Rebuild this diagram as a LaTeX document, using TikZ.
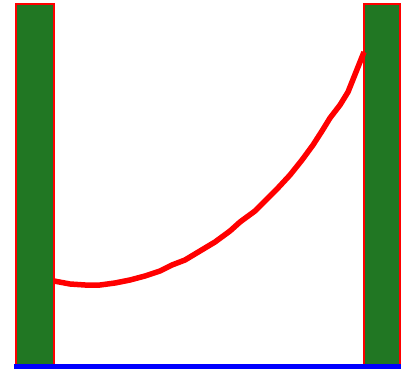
\documentclass[tikz,border=0pt]{standalone}
\usepackage{tikz}
\definecolor{pillargreen}{RGB}{33,119,35}
\tikzset{
	pillar/.style={draw=red, line width=2.5pt, fill=pillargreen},
	chain/.style={draw=red, line width=5.5pt, line join=round},
	ground/.style={draw=blue, line width=5pt}
}

\begin{document}
\begin{tikzpicture}[x=1pt, y=-1pt]
				\useasboundingbox (0,0) rectangle (406,371);
				\draw[pillar] (16,4) rectangle (54,366);
				\draw[pillar] (364,4) rectangle (400,366);
				\coordinate (L) at (54,281);
				\coordinate (R) at (364,52);
				\draw[chain] plot coordinates {(L) (70,284) (85,285) (100,285) (115,283) (130,280) (145,276) (160,271) (172,265) (185,260) (200,251) (215,242) (230,231) (240,222) (255,211) (265,201) (277,189) (290,175) (302,160) (313,145) (322,131) (330,118) (340,105) (348,92) (R)};
				\draw[ground] (14,366) -- (401,366);
			\end{tikzpicture}
\end{document}
